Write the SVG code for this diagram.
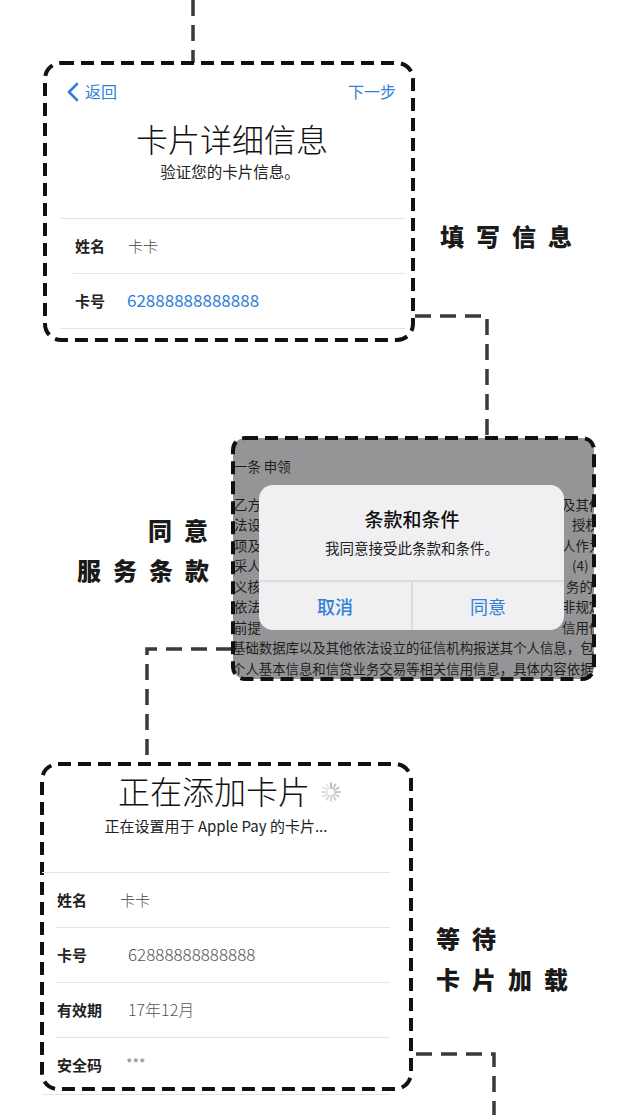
<svg xmlns="http://www.w3.org/2000/svg" width="640" height="1115" viewBox="0 0 640 1115">
<style>
text{font-family:"Noto Sans CJK SC","Liberation Sans",sans-serif;}
.box{fill:#ffffff;stroke:#111;stroke-width:4;stroke-dasharray:13 7;}
.conn{fill:none;stroke:#3a3a3a;stroke-width:3.5;stroke-dasharray:16 9;}
.sep{stroke:#e4e4e6;stroke-width:1.2;}
.blue{fill:#2f80d6;}
.lbl{font-size:15px;font-weight:700;fill:#222;}
.val{font-size:15px;font-weight:300;fill:#444;}
.step{font-size:24px;font-weight:900;fill:#1a1a1a;letter-spacing:12px;}
.bg{font-size:13.4px;fill:#1e1e1e;}
.spk{stroke:#b8b8b8;stroke-width:1.8;stroke-linecap:round;}
</style>
<defs>
<clipPath id="grayClip"><rect x="233" y="438" width="361" height="241" rx="12"/></clipPath>
</defs>
<rect width="640" height="1115" fill="#ffffff"/>

<g id="connectors">
<path class="conn" d="M193,0 V63"/>
<path class="conn" d="M415,316 H487 V437"/>
<path class="conn" d="M232,649 H147 V763"/>
<path class="conn" d="M416,1054 H494 V1115"/>
</g>

<g id="card-details">
<rect class="box" x="45" y="63" width="368" height="277" rx="16"/>
<path d="M77,84 L69,92 L77,100" fill="none" stroke="#2f80d6" stroke-width="2.6" stroke-linecap="round" stroke-linejoin="round"/>
<text class="blue" x="85" y="97.8" font-size="16">返回</text>
<text class="blue" x="396" y="97.8" font-size="16" text-anchor="end">下一步</text>
<text x="232" y="152" font-size="32" font-weight="300" fill="#111" text-anchor="middle">卡片详细信息</text>
<text x="230" y="177.8" font-size="15.5" fill="#222" text-anchor="middle">验证您的卡片信息。</text>
<line class="sep" x1="60" y1="218.5" x2="405" y2="218.5"/>
<text class="lbl" x="75" y="251.5">姓名</text>
<text class="val" x="128" y="251.5">卡卡</text>
<line class="sep" x1="73" y1="273.5" x2="405" y2="273.5"/>
<text class="lbl" x="75" y="306.5">卡号</text>
<text class="blue" x="127" y="307" font-size="17">62888888888888</text>
<line class="sep" x1="60" y1="328.5" x2="405" y2="328.5"/>
</g>
<g id="label-fill">
<text class="step" x="440" y="246">填写信息</text>
</g>

<g id="terms">
<rect x="233" y="438" width="361" height="241" rx="12" fill="#959597"/>
<g clip-path="url(#grayClip)">
<text class="bg" x="234" y="471.5">一条 申领</text>
<text class="bg" x="234" y="509.5">乙方</text>
<text class="bg" x="234" y="530">法设</text>
<text class="bg" x="234" y="550.5">项及</text>
<text class="bg" x="234" y="571">采人</text>
<text class="bg" x="234" y="591.5">义核</text>
<text class="bg" x="234" y="612">依法</text>
<text class="bg" x="234" y="632.5">前提</text>
<text class="bg" x="562" y="509.5">及其他</text>
<text class="bg" x="572" y="530">授权</text>
<text class="bg" x="562" y="550.5">人作为</text>
<text class="bg" x="572" y="571">(4)</text>
<text class="bg" x="566" y="591.5">务的</text>
<text class="bg" x="562" y="612">非规定</text>
<text class="bg" x="562" y="632.5">信用信</text>
<text class="bg" x="232" y="653">基础数据库以及其他依法设立的征信机构报送其个人信息，包</text>
<text class="bg" x="232" y="673.5">个人基本信息和信贷业务交易等相关信用信息，具体内容依据</text>
</g>
<rect x="259" y="485" width="305" height="145" rx="14" fill="#f0f0f2"/>
<text x="412" y="527" font-size="19" font-weight="500" fill="#111" text-anchor="middle">条款和条件</text>
<text x="412" y="554" font-size="14.5" fill="#222" text-anchor="middle">我同意接受此条款和条件。</text>
<line x1="259" y1="581" x2="564" y2="581" stroke="#c9c9cd" stroke-width="1"/>
<line x1="412" y1="581" x2="412" y2="630" stroke="#c9c9cd" stroke-width="1"/>
<text class="blue" x="335" y="614" font-size="18" font-weight="500" text-anchor="middle">取消</text>
<text class="blue" x="488" y="614" font-size="18" text-anchor="middle">同意</text>
<rect x="233" y="438" width="361" height="241" rx="12" fill="none" stroke="#111" stroke-width="4" stroke-dasharray="13 7"/>
</g>
<g id="label-agree">
<text class="step" x="148" y="540">同意</text>
<text class="step" x="77" y="580">服务条款</text>
</g>

<g id="adding-card">
<rect class="box" x="42" y="764" width="369" height="325" rx="16"/>
<text x="214" y="804" font-size="32" font-weight="300" fill="#111" text-anchor="middle">正在添加卡片</text>
<g transform="translate(331,792)">
<line class="spk" x1="0" y1="-4" x2="0" y2="-9"/>
<line class="spk" x1="0" y1="-4" x2="0" y2="-9" transform="rotate(30)" opacity="0.9"/>
<line class="spk" x1="0" y1="-4" x2="0" y2="-9" transform="rotate(60)" opacity="0.85"/>
<line class="spk" x1="0" y1="-4" x2="0" y2="-9" transform="rotate(90)" opacity="0.8"/>
<line class="spk" x1="0" y1="-4" x2="0" y2="-9" transform="rotate(120)" opacity="0.75"/>
<line class="spk" x1="0" y1="-4" x2="0" y2="-9" transform="rotate(150)" opacity="0.7"/>
<line class="spk" x1="0" y1="-4" x2="0" y2="-9" transform="rotate(180)" opacity="0.6"/>
<line class="spk" x1="0" y1="-4" x2="0" y2="-9" transform="rotate(210)" opacity="0.55"/>
<line class="spk" x1="0" y1="-4" x2="0" y2="-9" transform="rotate(240)" opacity="0.5"/>
<line class="spk" x1="0" y1="-4" x2="0" y2="-9" transform="rotate(270)" opacity="0.45"/>
<line class="spk" x1="0" y1="-4" x2="0" y2="-9" transform="rotate(300)" opacity="0.4"/>
<line class="spk" x1="0" y1="-4" x2="0" y2="-9" transform="rotate(330)" opacity="0.35"/>
</g>
<text x="216" y="831.5" font-size="15" fill="#222" text-anchor="middle">正在设置用于 Apple Pay 的卡片...</text>
<line class="sep" x1="42" y1="872.5" x2="390" y2="872.5"/>
<text class="lbl" x="57" y="906">姓名</text>
<text class="val" x="120" y="906">卡卡</text>
<line class="sep" x1="56" y1="927.5" x2="390" y2="927.5"/>
<text class="lbl" x="57" y="961">卡号</text>
<text x="128" y="961" font-size="17" font-weight="300" fill="#555">62888888888888</text>
<line class="sep" x1="56" y1="982.5" x2="390" y2="982.5"/>
<text class="lbl" x="57" y="1016">有效期</text>
<text x="128" y="1016" font-size="16" font-weight="300" fill="#555">17年12月</text>
<line class="sep" x1="56" y1="1037.5" x2="390" y2="1037.5"/>
<text class="lbl" x="57" y="1071">安全码</text>
<text x="126" y="1069" font-size="14" fill="#888">***</text>
<line class="sep" x1="42" y1="1094.5" x2="390" y2="1094.5"/>
</g>
<g id="label-wait">
<text class="step" x="436" y="948">等待</text>
<text class="step" x="436" y="989">卡片加载</text>
</g>
</svg>
